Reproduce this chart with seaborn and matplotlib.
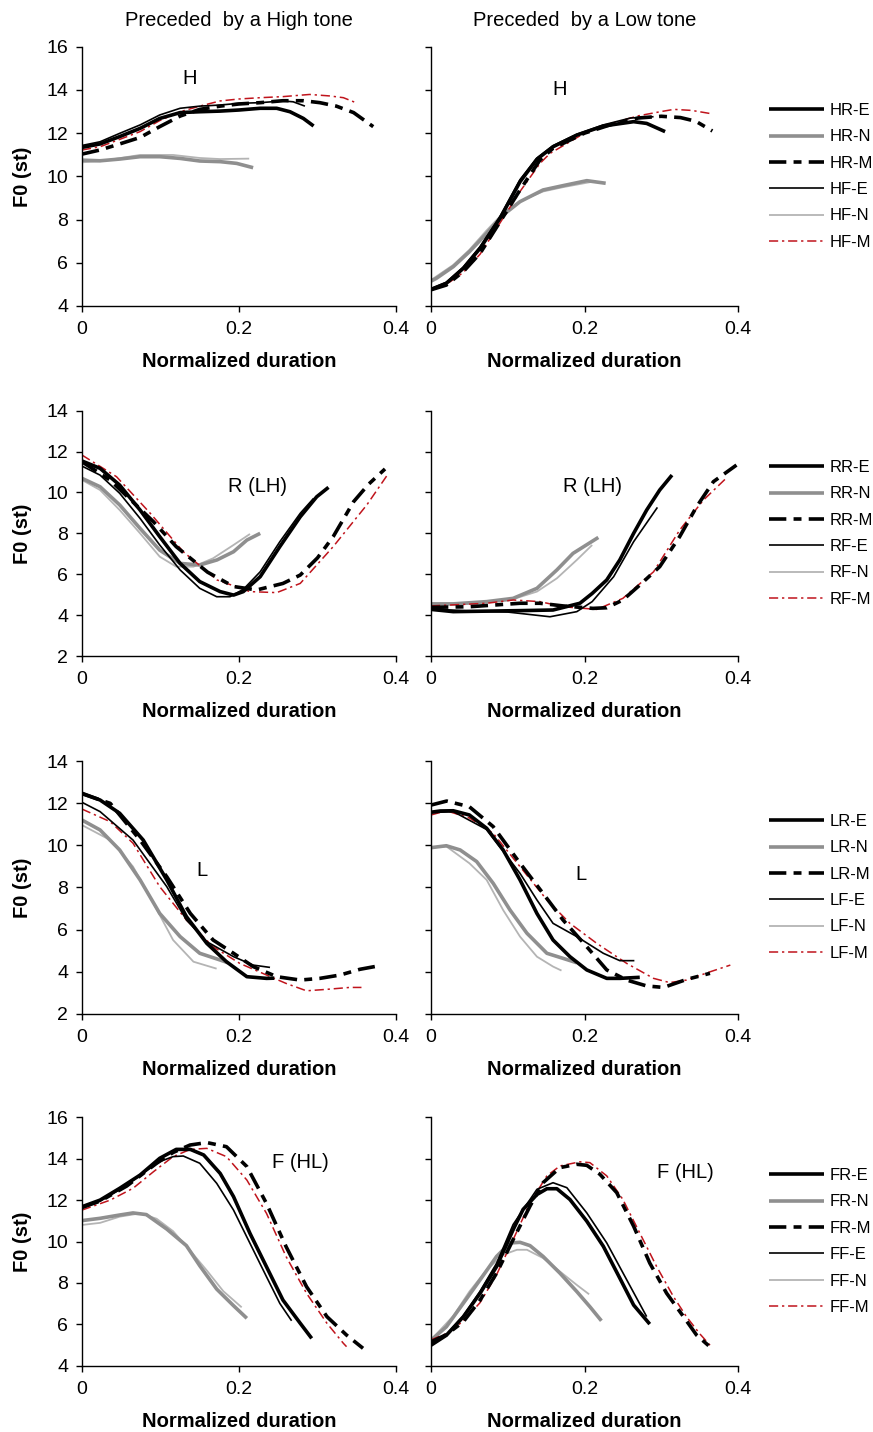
import matplotlib
matplotlib.use("Agg")
import matplotlib.pyplot as plt
from matplotlib.lines import Line2D
import seaborn as sns

# ---------------- data (x = normalized duration, y = F0 in st) ----------------
H_HIGH = {
    "R-E": ([0, .023, .048, .074, .099, .125, .15, .176, .2, .227, .248, .265, .282, .295],
            [11.34, 11.5, 11.84, 12.22, 12.68, 12.95, 12.99, 13.02, 13.07, 13.15, 13.15, 12.99, 12.68, 12.33]),
    "R-N": ([0, .023, .048, .074, .099, .125, .15, .176, .197, .218],
            [10.75, 10.72, 10.8, 10.91, 10.91, 10.83, 10.71, 10.68, 10.6, 10.4]),
    "R-M": ([0, .023, .048, .074, .099, .125, .15, .176, .2, .227, .256, .282, .303, .324, .346, .371],
            [11.03, 11.22, 11.5, 11.8, 12.3, 12.79, 13.1, 13.25, 13.35, 13.41, 13.5, 13.5, 13.41, 13.25, 12.95, 12.3]),
    "F-E": ([0, .023, .048, .074, .099, .125, .15, .176, .2, .227, .256, .269, .284],
            [11.43, 11.6, 11.99, 12.38, 12.84, 13.15, 13.25, 13.3, 13.38, 13.41, 13.49, 13.45, 13.25]),
    "F-N": ([0, .023, .074, .116, .15, .176, .213],
            [10.65, 10.7, 10.99, 10.99, 10.85, 10.8, 10.82]),
    "F-M": ([0, .023, .048, .074, .099, .125, .15, .176, .2, .227, .256, .29, .316, .333, .351],
            [11.22, 11.37, 11.71, 12.07, 12.58, 12.99, 13.25, 13.49, 13.58, 13.64, 13.69, 13.79, 13.72, 13.64, 13.38]),
}
H_LOW = {
    "R-E": ([0, .02, .042, .064, .09, .116, .138, .159, .19, .2245, .264, .281, .305],
            [4.77, 5.05, 5.74, 6.67, 8.06, 9.75, 10.79, 11.37, 11.91, 12.33, 12.53, 12.45, 12.07]),
    "R-N": ([0, .007, .029, .05, .0725, .094, .116, .146, .172, .203, .2276],
            [5.15, 5.28, 5.82, 6.51, 7.36, 8.21, 8.83, 9.37, 9.57, 9.8, 9.68]),
    "R-M": ([0, .02, .042, .064, .09, .116, .142, .159, .2, .235, .27, .3, .325, .345, .3666],
            [4.75, 4.97, 5.59, 6.44, 7.9, 9.37, 10.76, 11.3, 12.0, 12.4, 12.7, 12.78, 12.72, 12.55, 12.1]),
    "F-E": ([0, .02, .042, .064, .09, .116, .138, .159, .19, .2245, .26, .29],
            [4.8, 5.1, 5.8, 6.75, 8.15, 9.85, 10.85, 11.42, 11.95, 12.38, 12.7, 12.76]),
    "F-N": ([0, .029, .05, .0725, .094, .116, .146, .172, .21],
            [5.2, 5.9, 6.6, 7.5, 8.3, 8.85, 9.3, 9.5, 9.75]),
    "F-M": ([0, .02, .042, .064, .09, .116, .142, .155, .2, .235, .27, .3, .3166, .34, .365],
            [4.8, 5.0, 5.55, 6.4, 7.85, 9.3, 10.6, 11.06, 12.0, 12.45, 12.8, 13.0, 13.1, 13.05, 12.9]),
}
R_HIGH = {
    "R-E": ([0, .023, .048, .074, .099, .125, .15, .176, .193, .2055, .227, .252, .278, .299, .314],
            [11.54, 11.18, 10.36, 9.14, 7.84, 6.53, 5.64, 5.15, 4.98, 5.15, 5.88, 7.35, 8.81, 9.79, 10.25]),
    "R-N": ([0, .023, .048, .074, .099, .125, .15, .172, .193, .21, .227],
            [10.69, 10.28, 9.39, 8.24, 7.18, 6.53, 6.45, 6.7, 7.1, 7.67, 8.0]),
    "R-M": ([0, .036, .091, .12, .16, .193, .2225, .256, .278, .3, .32, .346, .365, .386],
            [11.5, 10.6, 8.57, 7.35, 6.1, 5.4, 5.23, 5.55, 5.96, 6.8, 7.84, 9.55, 10.4, 11.15]),
    "F-E": ([0, .023, .048, .074, .099, .125, .15, .1716, .1885, .2055, .227, .252, .278, .295],
            [11.29, 10.85, 9.96, 8.73, 7.43, 6.21, 5.31, 4.9, 4.9, 5.26, 6.12, 7.59, 8.98, 9.71]),
    "F-N": ([0, .023, .048, .074, .099, .12, .142, .167, .193, .214],
            [10.61, 10.12, 9.14, 8.0, 6.86, 6.37, 6.37, 6.78, 7.43, 7.97]),
    "F-M": ([0, .044, .087, .129, .172, .214, .248, .278, .32, .363, .388],
            [11.83, 10.77, 8.98, 7.1, 5.72, 5.15, 5.1, 5.55, 7.35, 9.4, 10.8]),
}
R_LOW = {
    "R-E": ([0, .029, .116, .159, .194, .21, .229, .246, .264, .281, .298, .314],
            [4.28, 4.17, 4.22, 4.25, 4.58, 5.06, 5.72, 6.7, 8.0, 9.14, 10.12, 10.85]),
    "R-N": ([0, .029, .0725, .107, .138, .164, .185, .218],
            [4.55, 4.55, 4.66, 4.82, 5.31, 6.21, 7.02, 7.8]),
    "R-M": ([0, .05, .116, .142, .172, .211, .229, .25, .272, .298, .324, .346, .368, .398],
            [4.38, 4.41, 4.58, 4.58, 4.45, 4.33, 4.36, 4.74, 5.47, 6.37, 7.84, 9.3, 10.53, 11.34]),
    "F-E": ([0, .05, .1, .155, .19, .21, .238, .264, .295],
            [4.3, 4.2, 4.15, 3.92, 4.17, 4.66, 5.88, 7.59, 9.27]),
    "F-N": ([0, .05, .1, .138, .164, .19, .21],
            [4.5, 4.55, 4.7, 5.15, 5.8, 6.7, 7.43]),
    "F-M": ([0, .0725, .107, .142, .172, .216, .25, .29, .324, .355, .383],
            [4.45, 4.58, 4.74, 4.66, 4.41, 4.28, 4.82, 6.12, 8.16, 9.63, 10.64]),
}
L_HIGH = {
    "R-E": ([0, .023, .048, .078, .108, .133, .159, .184, .21, .235, .245],
            [12.47, 12.15, 11.52, 10.25, 8.36, 6.62, 5.35, 4.48, 3.77, 3.69, 3.7]),
    "R-N": ([0, .023, .048, .074, .099, .125, .15, .176, .186],
            [11.2, 10.73, 9.78, 8.36, 6.77, 5.67, 4.88, 4.56, 4.43]),
    "R-M": ([0, .036, .074, .108, .138, .167, .193, .218, .248, .278, .303, .329, .354, .373],
            [12.45, 11.99, 10.25, 8.51, 6.77, 5.51, 4.88, 4.25, 3.77, 3.61, 3.69, 3.85, 4.12, 4.25]),
    "F-E": ([0, .023, .065, .108, .133, .159, .193, .218, .2395],
            [12.04, 11.6, 10.25, 8.04, 6.46, 5.43, 4.72, 4.32, 4.21]),
    "F-N": ([0, .036, .065, .091, .116, .142, .1715],
            [10.96, 10.25, 8.99, 7.25, 5.51, 4.48, 4.15]),
    "F-M": ([0, .036, .065, .099, .133, .167, .201, .235, .26, .286, .312, .341, .356],
            [11.72, 11.12, 10.1, 8.04, 6.46, 5.19, 4.4, 3.85, 3.45, 3.1, 3.17, 3.26, 3.26]),
}
L_LOW = {
    "R-E": ([0, .012, .029, .05, .0725, .094, .116, .138, .159, .181, .203, .229, .246, .272],
            [11.57, 11.63, 11.64, 11.44, 10.81, 9.78, 8.36, 6.77, 5.51, 4.72, 4.09, 3.69, 3.69, 3.74]),
    "R-N": ([0, .02, .038, .0595, .081, .103, .125, .151, .172, .19],
            [9.89, 9.98, 9.78, 9.23, 8.2, 6.93, 5.83, 4.88, 4.64, 4.43]),
    "R-M": ([0, .0204, .05, .081, .116, .146, .172, .203, .229, .255, .281, .303, .333, .3635],
            [11.91, 12.1, 11.83, 10.89, 9.15, 7.72, 6.46, 5.19, 4.09, 3.61, 3.33, 3.26, 3.64, 3.93]),
    "F-E": ([0, .029, .0725, .116, .138, .159, .19, .2245, .246, .265],
            [11.55, 11.6, 10.75, 8.67, 7.41, 6.3, 5.67, 4.88, 4.53, 4.53]),
    "F-N": ([0, .02, .05, .0725, .094, .116, .138, .159, .17],
            [9.9, 9.95, 9.15, 8.36, 6.93, 5.67, 4.72, 4.25, 4.06]),
    "F-M": ([0, .02, .05, .081, .116, .151, .181, .216, .255, .29, .311, .333, .3635, .39],
            [11.44, 11.64, 11.3, 10.57, 8.99, 7.41, 6.3, 5.35, 4.4, 3.69, 3.49, 3.61, 4.0, 4.32]),
}
F_HIGH = {
    "R-E": ([0, .023, .048, .074, .099, .12, .138, .155, .176, .193, .214, .235, .256, .278, .2926],
            [11.68, 12.0, 12.57, 13.21, 14.02, 14.45, 14.45, 14.18, 13.29, 12.17, 10.39, 8.78, 7.17, 6.05, 5.32]),
    "R-N": ([0, .023, .048, .065, .082, .108, .133, .15, .1716, .193, .21],
            [11.01, 11.12, 11.28, 11.38, 11.3, 10.6, 9.8, 8.83, 7.7, 6.9, 6.29]),
    "R-M": ([0, .023, .057, .095, .116, .1376, .159, .184, .21, .235, .26, .286, .312, .337, .358],
            [11.65, 11.95, 12.68, 13.78, 14.3, 14.66, 14.78, 14.58, 13.62, 11.84, 9.75, 7.82, 6.37, 5.48, 4.84]),
    "F-E": ([0, .023, .048, .074, .099, .116, .129, .15, .1716, .193, .214, .235, .252, .267],
            [11.6, 11.95, 12.5, 13.2, 13.86, 14.1, 14.13, 13.78, 12.81, 11.52, 9.91, 8.3, 7.01, 6.17]),
    "F-N": ([0, .023, .048, .074, .095, .116, .138, .159, .18, .2034],
            [10.8, 10.9, 11.2, 11.36, 11.1, 10.5, 9.55, 8.6, 7.6, 6.82]),
    "F-M": ([0, .036, .065, .091, .116, .138, .159, .184, .21, .235, .26, .286, .312, .333, .337],
            [11.52, 12.0, 12.57, 13.37, 14.1, 14.45, 14.5, 14.1, 12.97, 11.36, 9.27, 7.5, 6.05, 5.08, 4.92]),
}
F_LOW = {
    "R-E": ([0, .02, .042, .064, .0855, .107, .12, .138, .151, .164, .181, .203, .2245, .246, .264, .285],
            [4.99, 5.47, 6.36, 7.5, 8.79, 10.57, 11.55, 12.27, 12.55, 12.55, 12.03, 10.98, 9.77, 8.23, 6.93, 6.01]),
    "R-N": ([0, .02, .042, .064, .0855, .103, .116, .129, .146, .168, .19, .207, .222],
            [5.23, 5.88, 7.01, 8.15, 9.28, 9.93, 9.96, 9.8, 9.28, 8.47, 7.58, 6.85, 6.17]),
    "R-M": ([0, .02, .042, .064, .0855, .107, .129, .146, .168, .19, .203, .22, .242, .264, .285, .307, .329, .346, .3635],
            [5.15, 5.5, 6.12, 7.17, 8.47, 10.09, 11.71, 12.84, 13.57, 13.73, 13.68, 13.25, 12.36, 10.74, 8.96, 7.5, 6.37, 5.48, 4.91]),
    "F-E": ([0, .02, .042, .064, .0855, .107, .138, .159, .177, .203, .229, .255, .281],
            [5.05, 5.5, 6.4, 7.6, 8.95, 10.82, 12.52, 12.84, 12.6, 11.38, 9.93, 8.15, 6.37]),
    "F-N": ([0, .029, .05, .0725, .094, .112, .125, .146, .168, .19, .206],
            [5.25, 6.4, 7.58, 8.63, 9.36, 9.6, 9.6, 9.2, 8.55, 7.9, 7.45]),
    "F-M": ([0, .02, .042, .064, .0855, .107, .129, .151, .168, .194, .207, .229, .25, .272, .294, .316, .333, .35, .3635],
            [5.25, 5.55, 6.15, 7.05, 8.4, 10.09, 11.87, 13.17, 13.65, 13.85, 13.81, 13.17, 12.03, 10.41, 8.79, 7.33, 6.36, 5.55, 4.99]),
}

SERIES = ["R-E", "R-N", "R-M", "F-E", "F-N", "F-M"]
TONES = ["H", "R", "L", "F"]
ANNOT = ["H", "R (LH)", "L", "F (HL)"]
YLIMS = [(4, 16), (2, 14), (2, 14), (4, 16)]
TITLES = ["Preceded  by a High tone", "Preceded  by a Low tone"]
XTICKS = [0, 0.2, 0.4]
XTICKLABELS = ["0", "0.2", "0.4"]

# ---------------- styling ----------------
STYLE = {
    "R-E": dict(color="black", linewidth=2.6, linestyle="-"),
    "R-N": dict(color="#8f8f8f", linewidth=2.6, linestyle="-"),
    "R-M": dict(color="black", linewidth=2.6, linestyle=(0, (4.8, 2.0, 2.2, 2.0))),
    "F-E": dict(color="black", linewidth=1.2, linestyle="-"),
    "F-N": dict(color="#b4b4b4", linewidth=1.3, linestyle="-"),
    "F-M": dict(color="#c0141c", linewidth=1.1, linestyle=(0, (6, 2.5, 1.5, 2.5))),
}
DRAW_ORDER = ["F-N", "R-N", "F-M", "R-M", "F-E", "R-E"]

sns.set_style("ticks")
plt.rcParams["font.family"] = ["Liberation Sans", "DejaVu Sans"]
plt.rcParams["axes.edgecolor"] = "black"
plt.rcParams["axes.linewidth"] = 1.0
plt.rcParams["text.color"] = "black"
plt.rcParams["axes.labelcolor"] = "black"
plt.rcParams["xtick.color"] = "black"
plt.rcParams["ytick.color"] = "black"

fig = plt.figure(figsize=(8.73, 14.32), dpi=100)
W, H = 873.0, 1432.0
col_x = [(82, 396), (431, 738)]
row_y = [(46.7, 306), (410.7, 656), (761, 1014), (1117.3, 1365.7)]
ann_pos = [
    [(0.1376, 14.55), (0.168, 14.0)],
    [(0.224, 10.3), (0.21, 10.3)],
    [(0.1525, 8.83), (0.196, 8.64)],
    [(0.2777, 13.8), (0.332, 13.32)],
]
panels = [[H_HIGH, H_LOW], [R_HIGH, R_LOW], [L_HIGH, L_LOW], [F_HIGH, F_LOW]]

for r in range(4):
    top, bot = row_y[r]
    for c in range(2):
        x0, x1 = col_x[c]
        ax = fig.add_axes([x0 / W, 1 - bot / H, (x1 - x0) / W, (bot - top) / H])
        data = panels[r][c]
        for key in DRAW_ORDER:
            xs, ys = data[key]
            sns.lineplot(x=xs, y=ys, ax=ax, sort=False, estimator=None, legend=False,
                         solid_capstyle="butt", **STYLE[key])
        ax.set_xlim(0, 0.4)
        ax.set_ylim(*YLIMS[r])
        ax.set_xticks(XTICKS)
        ax.set_xticklabels(XTICKLABELS)
        ax.set_yticks(range(YLIMS[r][0], YLIMS[r][1] + 1, 2))
        ax.tick_params(axis="both", direction="out", length=4, width=1.0, color="black",
                       labelsize=14, labelcolor="black")
        ax.tick_params(axis="y", pad=6)
        ax.tick_params(axis="x", pad=7)
        sns.despine(ax=ax)
        ax.set_xlabel("Normalized duration", fontsize=14.5, fontweight="bold", labelpad=10,
                      color="black")
        if c == 0:
            ax.set_ylabel("F0 (st)", fontsize=14.5, fontweight="bold", labelpad=10,
                          color="black")
        else:
            ax.tick_params(axis="y", labelleft=False)
        ax.text(ann_pos[r][c][0], ann_pos[r][c][1], ANNOT[r], ha="center", va="center",
                fontsize=14.5, color="black")
        if r == 0:
            ax.text(0.5, 1 + (top - 20) / (bot - top), TITLES[c], transform=ax.transAxes,
                    ha="center", va="center", fontsize=14.5, color="black")
        if c == 1:
            handles = [Line2D([], [], solid_capstyle="butt", **STYLE[k]) for k in SERIES]
            labels = [TONES[r] + k for k in SERIES]
            leg = ax.legend(handles, labels, loc="center left", bbox_to_anchor=(1.10, 0.5),
                            frameon=False, fontsize=12, handlelength=3.3, handletextpad=0.38,
                            borderpad=0, borderaxespad=0, labelspacing=0.68)
            for t in leg.get_texts():
                t.set_color("black")

fig.savefig("out.png", dpi=100)
